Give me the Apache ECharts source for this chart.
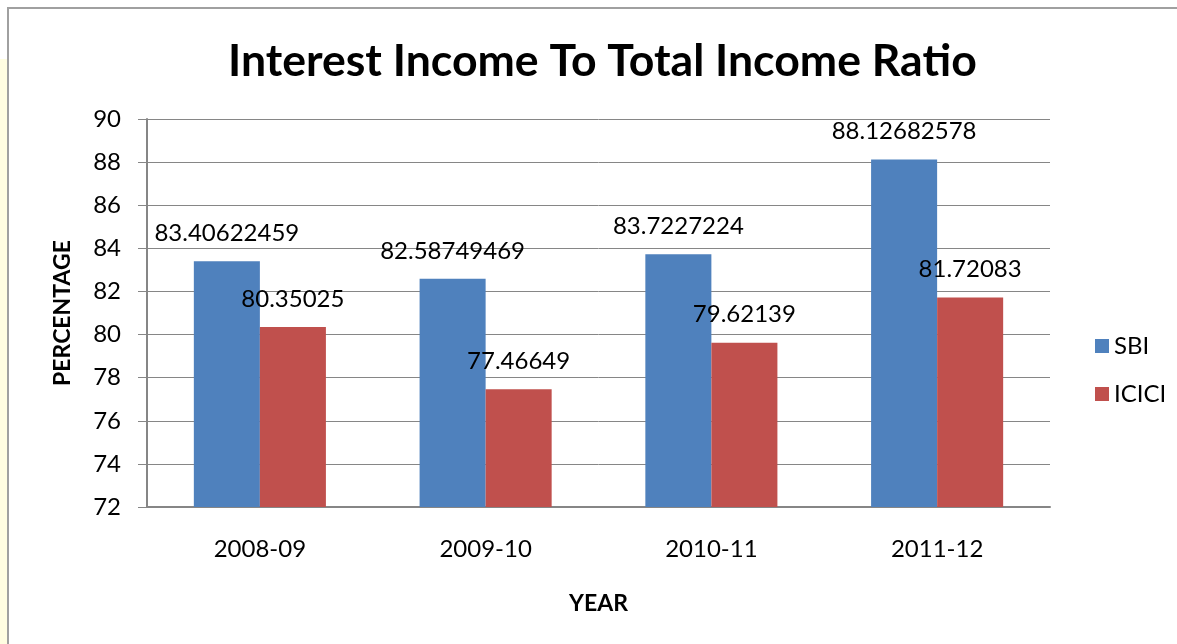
<!DOCTYPE html>
<html>
<head>
<meta charset="utf-8">
<script src="https://cdn.jsdelivr.net/npm/echarts@6/dist/echarts.min.js"></script>
<style>
html,body{margin:0;padding:0;background:#fff;}
#chart{width:1177px;height:644px;}
</style>
</head>
<body>
<div id="chart"></div>
<script>
const categories = ['2008-09', '2009-10', '2010-11', '2011-12'];
const sbiValues = [83.40622459, 82.58749469, 83.7227224, 88.12682578];
const iciciValues = [80.35025, 77.46649, 79.62139, 81.72083];
const yMin = 72, yMax = 90, yStep = 2;

const FONT = 'Lato';
const chart = echarts.init(document.getElementById('chart'), null, {renderer: 'canvas'});
const labelStyle = {show: true, position: 'top', distance: 16, color: '#000', fontSize: 24, fontFamily: FONT, formatter: p => String(p.value)};
chart.setOption({
  animation: false,
  backgroundColor: '#fff',
  graphic: [
    {type: 'rect', shape: {x: 0, y: 59, width: 7, height: 600}, style: {fill: '#fffde1'}, silent: true},
    {type: 'rect', shape: {x: 8, y: 8, width: 1300, height: 1000}, style: {fill: null, stroke: '#a0a0a0', lineWidth: 2}, silent: true}
  ],
  title: {
    text: 'Interest Income To Total Income Ratio',
    left: 223, top: 34,
    textStyle: {fontFamily: FONT, fontWeight: 'bold', fontSize: 44.6, color: '#000'}
  },
  legend: {
    orient: 'vertical', left: 1090, top: 329,
    itemWidth: 14, itemHeight: 14, itemGap: 24,
    icon: 'rect',
    textStyle: {fontFamily: FONT, fontSize: 24, color: '#000', lineHeight: 24},
    data: ['SBI', 'ICICI']
  },
  grid: {left: 147, right: 127, top: 119, bottom: 137, containLabel: false},
  xAxis: {
    type: 'category', data: categories,
    name: 'YEAR', nameLocation: 'middle', nameGap: 85,
    nameTextStyle: {fontFamily: FONT, fontWeight: 'bold', fontSize: 23, color: '#000'},
    axisLine: {lineStyle: {color: '#868686', width: 2}},
    axisTick: {show: false},
    axisLabel: {fontFamily: FONT, fontSize: 24, color: '#000', margin: 30}
  },
  yAxis: {
    type: 'value', min: yMin, max: yMax, interval: yStep,
    name: 'PERCENTAGE', nameLocation: 'middle', nameGap: 73, nameRotate: 90,
    nameTextStyle: {fontFamily: FONT, fontWeight: 'bold', fontSize: 23, color: '#000'},
    axisLine: {show: true, lineStyle: {color: '#868686', width: 2}},
    axisTick: {show: true, length: 9, lineStyle: {color: '#868686'}},
    axisLabel: {fontFamily: FONT, fontSize: 24, color: '#000', margin: 26},
    splitLine: {lineStyle: {color: '#868686', width: 1}}
  },
  series: [
    {name: 'SBI', type: 'bar', data: sbiValues, barGap: '0%', barCategoryGap: '41.5%',
     itemStyle: {color: '#4F81BD'}, label: labelStyle},
    {name: 'ICICI', type: 'bar', data: iciciValues,
     itemStyle: {color: '#C0504D'}, label: labelStyle}
  ]
});
</script>
</body>
</html>
